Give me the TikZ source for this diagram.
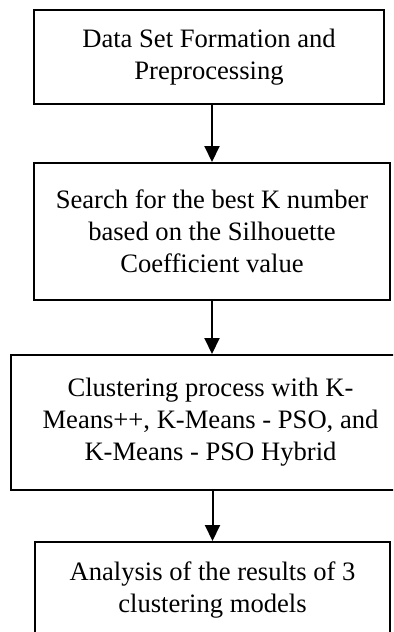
\documentclass[tikz,border=0pt]{standalone}
\usepackage{fontspec}
\setmainfont{Liberation Serif}
\usepackage{tikz}
\usetikzlibrary{arrows.meta}
\usetikzlibrary{calc}

\begin{document}
\begin{tikzpicture}[x=0.5pt,y=-0.5pt,
	stage/.style={draw,line width=1pt,rectangle,inner sep=0pt,align=center,
		font=\fontsize{13.3pt}{16pt}\selectfont},
	flow/.style={line width=1pt,-{Triangle[length=8pt,width=7.5pt]}}]
	
	\useasboundingbox (0,0) rectangle (393,632);
	
	\clip (0,0) rectangle (393,632);
	
	\node [stage,minimum width=175pt,minimum height=47pt] (form) at (209,57) {Data Set Formation and\\Preprocessing};
	
	\node [stage,minimum width=178pt,minimum height=68.5pt] (best) at (212,231.5) {Search for the best K number\\based on the Silhouette\\Coefficient value};
	
	\node [stage,minimum width=199.5pt,minimum height=67.5pt] (clust) at (210.5,422.5) {Clustering process with K-\\Means++, K-Means - PSO, and\\K-Means - PSO Hybrid};
	
	\node [stage,minimum width=177.5pt,minimum height=48pt] (anal) at (212.5,590) {Analysis of the results of 3\\clustering models};
	
	\draw [flow] (best.north |- form.south) -- (best.north);
	
	\draw [flow] (best.south) -- (best.south |- clust.north);
	
	\draw [flow] (anal.north |- clust.south) -- (anal.north);
	
\end{tikzpicture}
\end{document}
